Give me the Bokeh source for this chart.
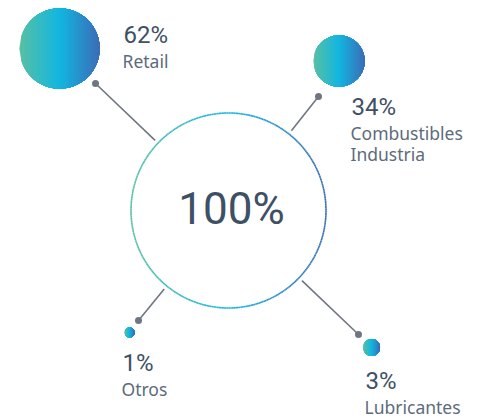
import numpy as np
from bokeh.plotting import figure
from bokeh.models import Range1d
from bokeh.core.properties import value
from bokeh.embed import file_html
from bokeh.resources import INLINE

# ---- data ----
categories = ["Retail", "Combustibles\nIndustria", "Otros", "Lubricantes"]
shares = [62, 34, 1, 3]
total_label = "100%"

# ---- layout (reference pixel coordinates, y downwards) ----
bubble_x = [59, 338.5, 129, 371]
bubble_y = [48, 60.5, 332, 347]
bubble_k = [5.1, 4.4, 5.0, 4.9]          # radius = k * sqrt(share)
dot_x = [95, 318, 138, 358]
dot_y = [83, 96, 320, 334]
label_x = [123, 351, 122, 365]
num_base = [45, 117, 373, 391]
ring_cx, ring_cy, ring_r = 228, 210, 97.5

NUM_COLOR = "#3e5064"
TXT_COLOR = "#5d6b7b"
LINE_COLOR = "#6f7682"
NUM_FONT = "Roboto"
TXT_FONT = "Noto Sans"
NUM_SIZE, TXT_SIZE, TOT_SIZE = 24, 17.5, 44
SHIFT = 0.42  # baseline correction, in em

stops = [(0.0, (88, 192, 164)), (0.5, (18, 182, 225)), (1.0, (60, 108, 182))]


def grad(t):
    t = min(max(t, 0.0), 1.0)
    for (t0, c0), (t1, c1) in zip(stops[:-1], stops[1:]):
        if t <= t1:
            f = (t - t0) / (t1 - t0)
            c = [int(round(a + (b - a) * f)) for a, b in zip(c0, c1)]
            return "#%02x%02x%02x" % tuple(c)
    return "#%02x%02x%02x" % stops[-1][1]


p = figure(width=483, height=420, output_backend="svg", toolbar_location=None,
           x_range=Range1d(0, 483), y_range=Range1d(420, 0),
           min_border=0, outline_line_color=None)
p.axis.visible = False
p.grid.visible = False
p.background_fill_color = "white"
p.border_fill_color = "white"

# ---- ring with horizontal gradient ----
th = np.linspace(0, 2 * np.pi, 361)
rx = ring_cx + ring_r * np.cos(th)
ry = ring_cy + ring_r * np.sin(th)
ring_cols = [grad(((rx[i] + rx[i + 1]) / 2 - (ring_cx - ring_r)) / (2 * ring_r)) for i in range(len(th) - 1)]
p.segment(x0=rx[:-1], y0=ry[:-1], x1=rx[1:], y1=ry[1:], line_color=ring_cols, line_width=1.6)

# ---- connectors ----
lx0, ly0, lx1, ly1 = [], [], [], []
for dx, dy in zip(dot_x, dot_y):
    vx, vy = dx - ring_cx, dy - ring_cy
    d = np.hypot(vx, vy)
    lx0.append(ring_cx + vx / d * (ring_r + 4))
    ly0.append(ring_cy + vy / d * (ring_r + 4))
    lx1.append(dx)
    ly1.append(dy)
p.segment(x0=lx0, y0=ly0, x1=lx1, y1=ly1, line_color=LINE_COLOR, line_width=1.6)
p.scatter(x=dot_x, y=dot_y, size=7, fill_color=LINE_COLOR, line_color=None)

# ---- gradient bubbles (overlapping strips, painted left to right) ----
xs, ys, cols = [], [], []
N = 48
for cx, cy, k, v in zip(bubble_x, bubble_y, bubble_k, shares):
    r = k * np.sqrt(v)
    edges = np.linspace(-r, r, N + 1)
    for i in range(N):
        a = edges[i]
        sx = np.linspace(a, r, 40)
        h = np.sqrt(np.clip(r * r - sx * sx, 0, None))
        px = np.concatenate([cx + sx, cx + sx[::-1]])
        py = np.concatenate([cy - h, cy + h[::-1]])
        xs.append(list(px))
        ys.append(list(py))
        cols.append(grad((a + r / N) / (2 * r) + 0.5))
p.patches(xs=xs, ys=ys, fill_color=cols, line_color=None)

# ---- texts ----
p.text(x=label_x, y=[b - SHIFT * NUM_SIZE for b in num_base], text=[f"{s}%" for s in shares],
       text_font=value(NUM_FONT), text_font_size=f"{NUM_SIZE}px", text_color=NUM_COLOR,
       text_baseline="alphabetic", text_align="left")

tx, ty, tt = [], [], []
for lx, nb, cat in zip(label_x, num_base, categories):
    for j, line in enumerate(cat.split("\n")):
        tx.append(lx - 1)
        ty.append(nb + 22.5 + j * 21 - SHIFT * TXT_SIZE)
        tt.append(line)
p.text(x=tx, y=ty, text=tt, text_font=value(TXT_FONT), text_font_size=f"{TXT_SIZE}px",
       text_color=TXT_COLOR, text_baseline="alphabetic", text_align="left")

p.text(x=[ring_cx + 3], y=[227 - SHIFT * TOT_SIZE], text=[total_label], text_font=value(NUM_FONT),
       text_font_size=f"{TOT_SIZE}px", text_color=NUM_COLOR, text_baseline="alphabetic",
       text_align="center")

open("out.html", "w").write(file_html(p, INLINE))
